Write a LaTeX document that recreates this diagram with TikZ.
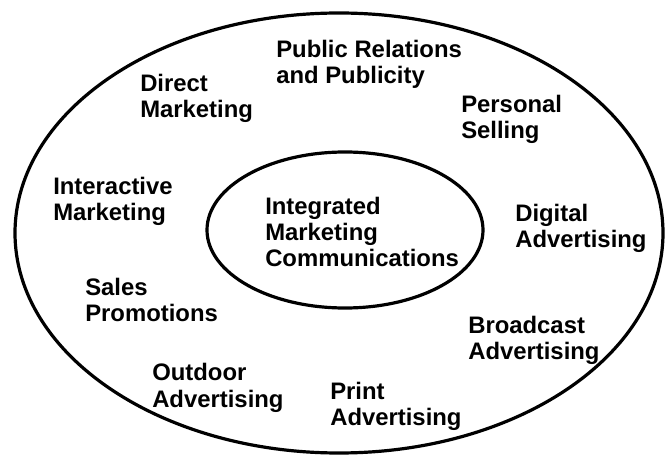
\documentclass[tikz,border=0pt]{standalone}
\usepackage{fontspec}
\setmainfont{Liberation Sans}
\usepackage{tikz}

\begin{document}
\begin{tikzpicture}[x=0.75pt,y=-0.75pt,
  ring/.style={line width=2.4pt},
  tool/.style={anchor=base west, align=left, inner sep=0pt,
    font=\bfseries\fontsize{17.9}{19.6}\selectfont}]
\useasboundingbox (0,0) rectangle (665,456);
\draw [ring] (339,233) ellipse (324 and 220);
\draw [ring] (345,230) ellipse (138 and 78);
% base anchor sits on the last line
\node [tool] (imc) at (265,267) {Integrated\\Marketing\\Communications};
\node [tool] (pr) at (276,84) {Public Relations\\and Publicity};
\node [tool] (dm) at (140,118) {Direct\\Marketing};
\node [tool] (ps) at (461,139) {Personal\\Selling};
\node [tool] (im) at (53,221) {Interactive\\Marketing};
\node [tool] (da) at (515,248) {Digital\\Advertising};
\node [tool] (sp) at (85,322) {Sales\\Promotions};
\node [tool] (ba) at (468,360) {Broadcast\\Advertising};
\node [tool] (oa) at (152,407) {Outdoor\\Advertising};
\node [tool] (pa) at (330,426) {Print\\Advertising};
\end{tikzpicture}
\end{document}
